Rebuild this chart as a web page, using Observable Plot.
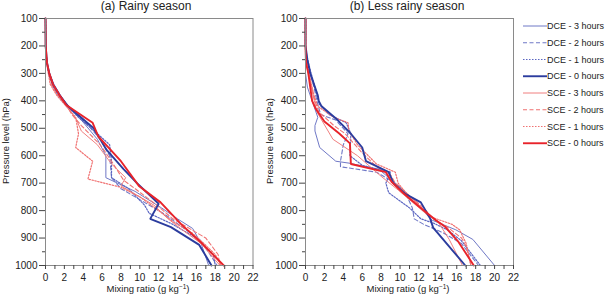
<!DOCTYPE html>
<html><head><meta charset="utf-8">
<script src="https://cdn.jsdelivr.net/npm/d3@7"></script>
<script src="https://cdn.jsdelivr.net/npm/@observablehq/plot@0.6"></script>
<style>
body{margin:0;background:#fff;}
#wrap{position:relative;width:607px;height:304px;font-family:"Liberation Sans",Arial,sans-serif;color:#222;overflow:hidden;background:#fff}
.panel{position:absolute;top:0}
.title{position:absolute;top:-1px;font-size:12px;transform:translateX(-50%);white-space:nowrap}
.xlab{position:absolute;top:284px;font-size:9.5px;line-height:10px;transform:translateX(-50%);white-space:nowrap}
.xlab span{font-size:6.5px;position:relative;top:-3px}
.ylab{position:absolute;font-size:9.5px;line-height:10px;white-space:nowrap;transform:translate(-50%,-50%) rotate(-90deg)}
#legend{position:absolute;left:515px;top:0}
</style></head><body>
<div id="wrap">
  <div class="panel" id="pa" style="left:0"></div>
  <div class="panel" id="pb" style="left:260px"></div>
  <div class="title" style="left:146px">(a) Rainy season</div>
  <div class="title" style="left:407px">(b) Less rainy season</div>
  <div class="xlab" style="left:148px">Mixing ratio (g kg<span>−1</span>)</div>
  <div class="xlab" style="left:408px">Mixing ratio (g kg<span>−1</span>)</div>
  <div class="ylab" style="left:6px;top:141px">Pressure level (hPa)</div>
  <div class="ylab" style="left:270px;top:141px">Pressure level (hPa)</div>
  <svg id="legend" width="92" height="160"></svg>
</div>
<script>
// [mixing ratio (g/kg), pressure (hPa)]
const rainyDCE3 = [[0,100],[0.02,200],[0.15,260],[0.4,300],[0.9,340],[1.6,380],[2.2,410],[3.8,470],[5.5,540],[6.4,600],[6.4,680],[9.5,730],[12.3,790],[14.0,830],[15.6,865],[16.5,920],[17.3,1000]];
const rainyDCE2 = [[0,100],[0.02,200],[0.15,260],[0.4,300],[0.8,340],[1.5,380],[2.3,420],[4.3,480],[5.8,540],[6.8,600],[7.0,680],[8.0,720],[10.5,770],[12.5,810],[14.5,860],[16.5,910],[18.2,1000]];
const rainyDCE1 = [[0,100],[0.02,200],[0.15,260],[0.4,300],[0.7,340],[1.3,380],[2.0,410],[3.5,460],[5.5,520],[6.8,560],[7.0,620],[7.0,680],[8.8,720],[10.5,780],[11.0,810],[13.5,850],[16.0,900],[17.8,960],[18.0,1000]];
const rainyDCE0 = [[0,100],[0.02,200],[0.15,260],[0.4,300],[0.8,340],[1.5,380],[2.4,420],[5.1,500],[6.5,580],[8.3,650],[9.7,700],[12.0,775],[11.1,830],[13.3,860],[16.3,925],[17.6,1000]];
const rainySCE3 = [[0,100],[0.02,200],[0.15,260],[0.4,300],[0.8,340],[1.5,380],[2.2,415],[3.3,470],[3.8,510],[5.5,560],[7.0,630],[8.5,680],[8.0,710],[9.5,740],[11.5,780],[13.0,830],[14.5,870],[16.5,920],[18.5,1000]];
const rainySCE2 = [[0,100],[0.02,200],[0.15,260],[0.35,300],[0.6,340],[1.3,380],[2.2,415],[2.8,450],[3.8,490],[5.8,560],[7.0,620],[8.3,690],[9.5,720],[11.8,780],[13.5,830],[15.0,860],[17.0,900],[18.3,960],[18.5,1000]];
const rainySCE1 = [[0,100],[0.02,200],[0.1,260],[0.3,300],[0.5,340],[1.2,380],[2.2,420],[3.2,460],[3.5,520],[3.2,570],[5.0,620],[4.5,685],[8.0,715],[10.0,750],[12.0,800],[13.5,840],[15.5,880],[16.8,920],[18.0,960],[18.6,1000]];
const rainySCE0 = [[0,100],[0.02,200],[0.15,260],[0.4,300],[0.8,340],[1.5,380],[2.2,415],[5.0,480],[5.6,530],[8.0,620],[9.9,710],[12.2,770],[14.4,850],[16.6,920],[18.9,1000]];

const lessDCE3 = [[0,100],[0,200],[0,300],[0.2,350],[0.7,400],[1.3,460],[1.0,490],[1.0,510],[1.5,570],[3.2,620],[4.6,627],[7.8,650],[8.8,680],[10.2,730],[11.8,780],[13.4,835],[15.9,870],[17.7,905],[20.0,1000]];
const lessDCE2 = [[0,100],[0,200],[0.2,250],[0.5,300],[0.9,350],[1.2,400],[1.6,450],[3.2,470],[4.5,520],[4.0,560],[3.7,620],[3.7,640],[7.5,660],[9.5,700],[10.5,730],[11.3,790],[11.5,830],[12.5,850],[14.5,880],[16.5,920],[18.3,1000]];
const lessDCE1 = [[0,100],[0,220],[0.3,260],[0.6,300],[1.0,350],[1.4,410],[2.5,450],[4.3,480],[4.8,520],[4.7,600],[6.0,635],[9.0,660],[8.5,700],[8.8,735],[11.0,790],[12.2,830],[13.5,845],[15.0,870],[16.5,910],[18.5,1000]];
const lessDCE0 = [[0,100],[0,200],[0.2,250],[0.5,300],[1.0,350],[1.3,380],[1.4,400],[1.7,420],[3.4,470],[4.8,520],[6.0,570],[6.4,620],[8.8,660],[9.3,700],[10.6,740],[12.2,770],[13.2,830],[13.5,862],[16.9,1000]];
const lessSCE3 = [[0,100],[0,220],[0.1,270],[0.4,320],[0.8,380],[1.2,440],[2.9,540],[5.5,600],[8.0,675],[9.8,725],[12.7,810],[14.1,845],[15.2,905],[16.6,1000]];
const lessSCE2 = [[0,100],[0,220],[0.2,280],[0.5,330],[1.0,400],[1.4,440],[3.0,490],[4.2,520],[6.0,590],[7.5,640],[9.0,670],[9.5,700],[10.8,740],[12.5,790],[13.5,830],[15.0,860],[16.5,900],[17.0,930],[17.5,1000]];
const lessSCE1 = [[0,100],[0,220],[0.2,260],[0.5,320],[0.9,380],[1.3,420],[3.0,460],[4.5,480],[4.6,510],[5.5,560],[7.5,630],[9.5,660],[9.8,700],[10.5,730],[12.0,780],[13.0,820],[15.5,850],[16.3,870],[17.0,920],[17.5,1000]];
const lessSCE0 = [[0,100],[0,200],[0.05,260],[0.3,300],[0.5,350],[0.7,400],[1.1,430],[2.0,475],[3.6,520],[4.7,555],[4.8,630],[8.5,660],[9.1,695],[10.3,735],[12.0,785],[13.8,835],[14.8,860],[16.2,915],[17.8,1000]];

const seriesNames = ["DCE - 3 hours","DCE - 2 hours","DCE - 1 hours","DCE - 0 hours","SCE - 3 hours","SCE - 2 hours","SCE - 1 hours","SCE - 0 hours"];
const xMajorTicks = [0,2,4,6,8,10,12,14,16,18,20,22];
const xMinorTicks = [1,3,5,7,9,11,13,15,17,19,21];
const yMajorTicks = [100,200,300,400,500,600,700,800,900,1000];
const yMinorTicks = [150,250,350,450,550,650,750,850,950];

const styles = [
  {stroke:"#6f78c6", w:1, dash:null},
  {stroke:"#6f78c6", w:1.1, dash:"4,2.5"},
  {stroke:"#5b66c2", w:1.2, dash:"1.5,1.5"},
  {stroke:"#2b3c9e", w:1.9, dash:null},
  {stroke:"#f07f7f", w:1, dash:null},
  {stroke:"#f07272", w:1.1, dash:"4,2.5"},
  {stroke:"#f07272", w:1.2, dash:"1.5,1.5"},
  {stroke:"#e8232a", w:1.9, dash:null}
];

function panel(series, width, marginRight) {
  const order = [0,1,2,4,5,6,3,7];
  const lines = order.map(i => Plot.line(series[i], {
    x: d => d[0], y: d => d[1],
    stroke: styles[i].stroke, strokeWidth: styles[i].w,
    strokeDasharray: styles[i].dash, strokeLinejoin: "miter"
  }));
  return Plot.plot({
    width, height: 300,
    marginLeft: 45, marginRight, marginTop: 18, marginBottom: 35,
    style: {fontFamily: "'Liberation Sans', Arial, sans-serif", fontSize: "10px", color: "#222", background: "transparent", overflow: "visible"},
    x: {domain: [0, 22], label: null},
    y: {domain: [100, 1000], reverse: true, label: null},
    marks: [
      ...lines,
      Plot.frame({stroke: "#8a8a8a", strokeWidth: 1}),
      Plot.axisY(yMajorTicks, {tickSize: 6, tickPadding: 2, stroke: "#444", label: null, fontSize: 10, tickFormat: d => String(d)}),
      Plot.axisY(yMinorTicks, {tickSize: 3, tickFormat: () => "", stroke: "#444", label: null}),
      Plot.axisX(xMajorTicks, {tickSize: 4, tickPadding: 4, stroke: "#444", label: null, fontSize: 10, tickFormat: d => String(d)}),
      Plot.axisX(xMinorTicks, {tickSize: 4, tickFormat: () => "", stroke: "#444", label: null})
    ]
  });
}

document.getElementById("pa").append(panel([rainyDCE3,rainyDCE2,rainyDCE1,rainyDCE0,rainySCE3,rainySCE2,rainySCE1,rainySCE0], 262, 9.5));
document.getElementById("pb").append(panel([lessDCE3,lessDCE2,lessDCE1,lessDCE0,lessSCE3,lessSCE2,lessSCE1,lessSCE0], 262, 9));

const leg = d3.select("#legend");
seriesNames.forEach((name, i) => {
  const y = 26 + i * 16.75;
  leg.append("line").attr("x1", 8).attr("x2", 32).attr("y1", y).attr("y2", y)
    .attr("stroke", styles[i].stroke).attr("stroke-width", styles[i].w)
    .attr("stroke-dasharray", styles[i].dash);
  leg.append("text").attr("x", 32).attr("y", y).attr("dy", "0.35em")
    .attr("font-size", 9).attr("fill", "#222")
    .attr("font-family", "'Liberation Sans', Arial, sans-serif").text(name);
});
</script>
</body></html>
